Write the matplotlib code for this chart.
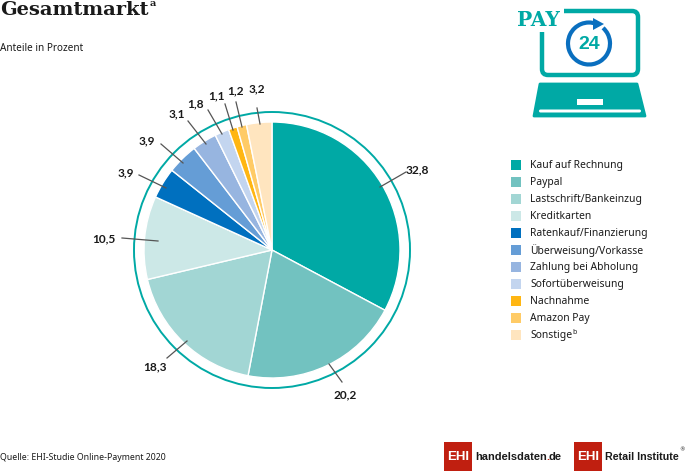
import matplotlib
matplotlib.use("Agg")
import matplotlib.pyplot as plt
from matplotlib.patches import Circle, Arc, FancyBboxPatch, Polygon, Rectangle
from matplotlib.path import Path
from matplotlib.patches import PathPatch

categories = ["Kauf auf Rechnung", "Paypal", "Lastschrift/Bankeinzug", "Kreditkarten",
              "Ratenkauf/Finanzierung", "Überweisung/Vorkasse", "Zahlung bei Abholung",
              "Sofortüberweisung", "Nachnahme", "Amazon Pay", "Sonstige"]
values = [32.8, 20.2, 18.3, 10.5, 3.9, 3.9, 3.1, 1.8, 1.1, 1.2, 3.2]
value_labels = ["32,8", "20,2", "18,3", "10,5", "3,9", "3,9", "3,1", "1,8", "1,1", "1,2", "3,2"]
colors = ["#00A9A5", "#72C2C0", "#A2D6D4", "#CCE8E7", "#0070BF", "#659DD6",
          "#97B5E0", "#C3D5EF", "#FFB612", "#FFCB66", "#FFE5BF"]

# leader lines and label spots, in pixels of the picture
label_pos = [(417, 170), (345, 395), (155, 367), (104, 239), (126, 173), (147, 141),
             (177, 114), (196, 104), (216, 96), (235, 91), (257, 89)]
line_pos = [((406, 172), (380, 187)), ((342, 382), (329, 364)), ((167, 358), (187, 341)),
            ((122, 238), (158, 241)), ((139, 175), (166, 188)), ((161, 144), (183, 163)),
            ((188, 121), (206, 144)), ((208, 110), (222, 134)), ((225, 104), (233, 130)),
            ((236, 102), (242, 127)), ((257, 108), (260, 124))]

H = 471
TEAL = "#00A9A5"
BLUE = "#0A6FBF"
RED = "#C01F10"
INK = "#1A1A1A"
BODY = "Noto Sans"


def Y(y):
    return H - y


fig = plt.figure(figsize=(6.85, 4.71), dpi=100)
ax = fig.add_axes([0, 0, 1, 1])

# title
ax.text(0, Y(10), "Gesamtmarkt", family="DejaVu Serif", weight="bold", fontsize=14,
        color=INK, va="center", ha="left")
ax.text(150, Y(4), "a", family="DejaVu Serif", weight="bold", fontsize=7,
        color=INK, va="center", ha="left")
ax.text(0, Y(48.5), "Anteile in Prozent", family=BODY, fontsize=7.2, color=INK, va="center")
ax.text(0, Y(457), "Quelle: EHI-Studie Online-Payment 2020", family=BODY, fontsize=6.3,
        color=INK, va="center")

# pie with ring
ax.pie(values, colors=colors, startangle=90, counterclock=False, center=(272, Y(250)),
       radius=128, wedgeprops={"edgecolor": "white", "linewidth": 1.0}, frame=True)
ax.set_xlim(0, 685)
ax.set_ylim(0, H)
ax.set_aspect("equal")
ax.axis("off")
ax.add_patch(Circle((272, Y(250)), 138, fill=False, edgecolor=TEAL, linewidth=1.4))

for text, lp, ln in zip(value_labels, label_pos, line_pos):
    ax.plot([ln[0][0], ln[1][0]], [Y(ln[0][1]), Y(ln[1][1])], color="#555555", linewidth=0.9)
    ax.text(lp[0], Y(lp[1]), text, family="Lato", weight="bold", fontsize=8.6,
            color=INK, ha="center", va="center")

# legend
for i, (name, col) in enumerate(zip(categories, colors)):
    yy = 165 + i * 17
    ax.add_patch(Rectangle((511, Y(yy + 5)), 10.5, 10.5, facecolor=col, edgecolor="none"))
    ax.text(530, Y(yy + 0.5), name, family=BODY, fontsize=7.45, color=INK, va="center")
ax.text(572.5, Y(332), "b", family=BODY, fontsize=5, color=INK, va="center")

# laptop icon
frame = Path([(564, Y(11)), (632, Y(11)), (638, Y(11)), (638, Y(17)), (638, Y(69)), (638, Y(75)),
              (632, Y(75)), (548, Y(75)), (542, Y(75)), (542, Y(69)), (542, Y(32))],
             [Path.MOVETO, Path.LINETO, Path.CURVE3, Path.CURVE3, Path.LINETO, Path.CURVE3,
              Path.CURVE3, Path.LINETO, Path.CURVE3, Path.CURVE3, Path.LINETO])
ax.add_patch(PathPatch(frame, fill=False, edgecolor=TEAL, linewidth=3.2, capstyle="butt"))
ax.add_patch(Polygon([(540, Y(84)), (637, Y(84)), (645, Y(116)), (534, Y(116))],
                     closed=True, facecolor=TEAL, edgecolor=TEAL, linewidth=2, joinstyle="round"))
ax.add_patch(Rectangle((577, Y(105)), 26, 6, facecolor="white", edgecolor="none"))
ax.add_patch(FancyBboxPatch((539, Y(112.5)), 102, 3, boxstyle="round,pad=0,rounding_size=1.5",
                            facecolor="white", edgecolor="none"))
ax.text(538.5, Y(20.5), "PAY", family="DejaVu Serif", weight="bold", fontsize=14.5, color=TEAL,
        ha="center", va="center")
ax.add_patch(Arc((589, Y(43.5)), 42, 42, theta1=70, theta2=48, edgecolor=BLUE, linewidth=3))
ax.add_patch(Polygon([(593, Y(18)), (604, Y(24)), (593, Y(30))], closed=True, facecolor=BLUE,
                     edgecolor="none"))
ax.text(589, Y(44.5), "24", family="Liberation Sans", weight="bold", fontsize=14, color=TEAL,
        ha="center", va="center")

# logos
for x0 in [444, 574]:
    ax.add_patch(Rectangle((x0, Y(470.5)), 28.5, 28.5, facecolor=RED, edgecolor="none"))
    ax.text(x0 + 14, Y(456.5), "EHI", family="Liberation Sans", weight="bold", fontsize=9.5,
            color="white", ha="center", va="center")
ax.text(475, Y(457), "handelsdaten", family="Liberation Sans", weight="bold", fontsize=7.9,
        color=INK, va="center")
ax.text(546, Y(457), ".", family="Liberation Sans", weight="bold", fontsize=7.9,
        color=RED, va="center")
ax.text(549, Y(457), "de", family="Liberation Sans", weight="bold", fontsize=7.9,
        color=INK, va="center")
ax.text(605.5, Y(457), "Retail Institute", family="Liberation Sans", weight="bold", fontsize=7.7,
        color=INK, va="center")
ax.text(682, Y(450), "®", family="DejaVu Sans", fontsize=4, color=INK, ha="center", va="center")

fig.savefig("out.png", dpi=100)
